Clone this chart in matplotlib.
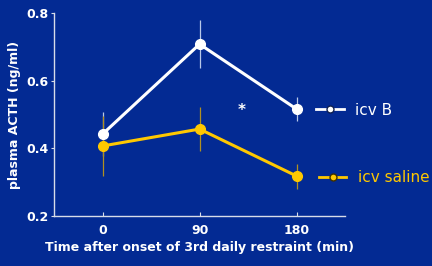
import matplotlib.pyplot as plt
from matplotlib.lines import Line2D

# data
times = [0, 90, 180]
icv_b = [0.442, 0.708, 0.516]
icv_b_err = [0.065, 0.07, 0.035]
icv_saline = [0.407, 0.457, 0.318]
icv_saline_err = [0.09, 0.066, 0.037]
yticks = [0.2, 0.4, 0.6, 0.8]

bg = "#032a93"
white = "#ffffff"
gold = "#ffc800"
axis_col = "#d8dce8"

plt.rcParams["font.family"] = ["DejaVu Sans"]

fig = plt.figure(figsize=(4.32, 2.66), dpi=100, facecolor=bg)
ax = fig.add_axes([0.125, 0.188, 0.674, 0.763], facecolor=bg)

ax.errorbar(times, icv_b, yerr=icv_b_err, fmt="none", ecolor="#b8c8e8", elinewidth=0.9, capsize=0, zorder=2)
ax.errorbar(times, icv_saline, yerr=icv_saline_err, fmt="none", ecolor="#b09020", elinewidth=0.9, capsize=0, zorder=2)
ax.plot(times, icv_b, color=white, lw=2.2, marker="o", ms=7, zorder=4)
ax.plot(times, icv_saline, color=gold, lw=2.2, marker="o", ms=7, zorder=3)

ax.text(129, 0.513, "*", color=white, fontsize=11, fontweight="bold", ha="center", va="center")

ax.set_xlim(-45, 225)
ax.set_ylim(0.2, 0.8)
ax.set_xticks(times)
ax.set_yticks(yticks)
ax.set_yticklabels([f"{v:.1f}" for v in yticks])

for s in ["top", "right"]:
    ax.spines[s].set_visible(False)
for s in ["left", "bottom"]:
    ax.spines[s].set_color(axis_col)
    ax.spines[s].set_linewidth(1.0)
ax.tick_params(axis="x", direction="in", length=3, colors=axis_col, labelcolor=white, labelsize=9, pad=6)
ax.tick_params(axis="y", direction="out", length=2, colors=axis_col, labelcolor=white, labelsize=9, pad=2)
for lab in ax.get_xticklabels() + ax.get_yticklabels():
    lab.set_fontweight("bold")

ax.set_ylabel("plasma ACTH (ng/ml)", color=white, fontsize=9, fontweight="bold", labelpad=4)
ax.set_xlabel("Time after onset of 3rd daily restraint (min)", color=white, fontsize=9, fontweight="bold", labelpad=3)

# two separate legends beside the last points
h_b = Line2D([], [], color=white, lw=2, marker="o", ms=5, mfc=white, mec="#102050")
h_s = Line2D([], [], color=gold, lw=2, marker="o", ms=5, mfc=gold, mec="#403000")
leg_kw = dict(loc="center left", frameon=False, borderpad=0, borderaxespad=0,
              handlelength=1.8, handletextpad=0.75, fontsize=11)
leg1 = ax.legend([h_b], ["icv B"], bbox_to_anchor=(0.90, 0.522), labelcolor=white, **leg_kw)
ax.add_artist(leg1)
ax.legend([h_s], ["icv saline"], bbox_to_anchor=(0.91, 0.19), labelcolor=gold, **leg_kw)

fig.savefig("out.png", dpi=100, facecolor=bg)
